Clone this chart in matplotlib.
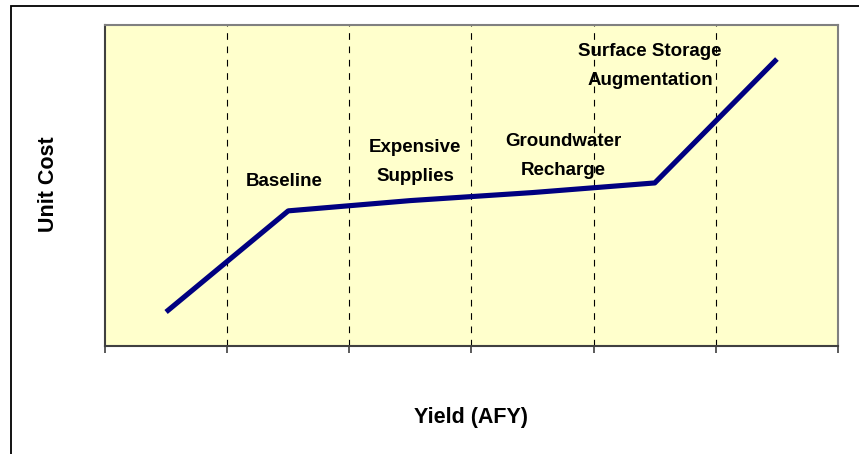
import matplotlib
matplotlib.use("Agg")
import matplotlib.pyplot as plt
from matplotlib.patches import Rectangle

# --- data ---
categories = ["1", "2", "3", "4", "5", "6"]
unit_cost = [1.06, 4.21, 4.53, 4.78, 5.08, 8.94]

labels = ["Baseline", "Expensive\nSupplies", "Groundwater\nRecharge", "Surface Storage\nAugmentation"]
label_x = [0.97, 2.04, 3.25, 3.96]
label_y = [5.14, 5.73, 5.92, 8.72]

plt.rcParams["font.family"] = ["Liberation Sans", "DejaVu Sans"]

fig = plt.figure(figsize=(8.59, 4.54), dpi=100)
ax = fig.add_axes([105 / 859, 1 - 346 / 454, (838 - 105) / 859, (346 - 25) / 454])
ax.set_facecolor("#FFFFCC")

x = list(range(len(categories)))
ax.plot(x, unit_cost, color="#000080", linewidth=3.7, solid_capstyle="butt", zorder=3)

# category boundaries
bounds = [i - 0.5 for i in range(len(categories) + 1)]
for b in bounds[1:-1]:
    ax.axvline(b, color="black", linewidth=0.8, linestyle=(0, (6, 6)), zorder=1)

for txt, lx, ly in zip(labels, label_x, label_y):
    ax.text(lx, ly, txt, ha="center", va="center", fontsize=13.5,
            fontweight="bold", linespacing=1.9, zorder=4)

ax.set_xlim(bounds[0], bounds[-1])
ax.set_ylim(0, 10)
ax.set_xticks(bounds)
ax.set_xticklabels([])
ax.set_yticks([])
ax.tick_params(axis="x", direction="out", length=5, width=1.2, color="#404040")

for side in ["top", "right"]:
    ax.spines[side].set_color("#808080")
    ax.spines[side].set_linewidth(1.5)
for side in ["left", "bottom"]:
    ax.spines[side].set_color("#404040")
    ax.spines[side].set_linewidth(1.5)

fig.text(471 / 859, 1 - 417 / 454, "Yield (AFY)", ha="center", va="center",
         fontsize=15.5, fontweight="bold")
fig.text(48 / 859, 1 - 184 / 454, "Unit Cost", ha="center", va="center",
         fontsize=15.5, fontweight="bold", rotation=90)

# outer chart border
fig.patches.append(Rectangle((11 / 859, -0.1), 1.0, 1.1 - 6 / 454,
                             transform=fig.transFigure, fill=False,
                             edgecolor="black", linewidth=1.3))

fig.savefig("out.png", dpi=100)
